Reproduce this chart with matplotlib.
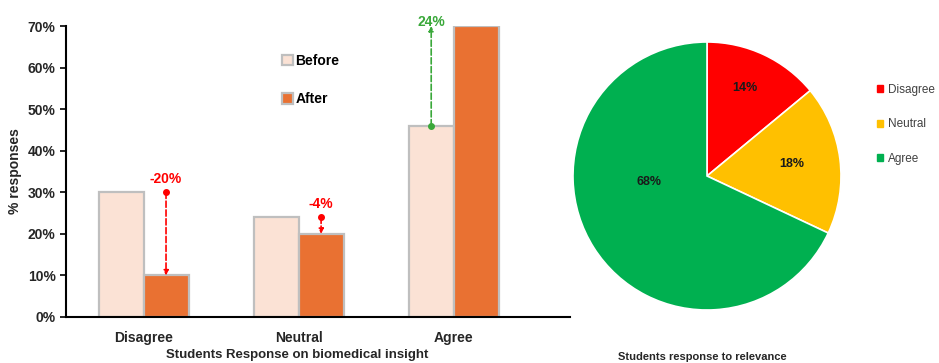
import numpy as np
import matplotlib
import matplotlib.pyplot as plt
from matplotlib.patches import Patch

matplotlib.use('Agg')
plt.rcParams['font.family'] = ['Liberation Sans', 'DejaVu Sans']

categories = ['Disagree', 'Neutral', 'Agree']
before = [30, 24, 46]
after = [10, 20, 70]
changes = ['-20%', '-4%', '24%']

pie_labels = ['Disagree', 'Neutral', 'Agree']
pie_values = [14, 18, 68]
pie_colors = ['#ff0000', '#ffc000', '#00b050']

fig = plt.figure(figsize=(9.39, 3.63), dpi=100)

# bar chart
ax = fig.add_axes([66 / 939, 46 / 363, 504 / 939, 291 / 363])
x = np.arange(len(categories))
w = 0.29
ax.bar(x - w / 2, before, w, color='#fbe2d5', edgecolor='#bfbfbf', linewidth=1.6, label='Before', zorder=2)
ax.bar(x + w / 2, after, w, color='#e97132', edgecolor='#bfbfbf', linewidth=1.6, label='After', zorder=2)

ax.set_xlim(-0.5, 2.75)
ax.set_ylim(0, 70)
ax.set_yticks(range(0, 71, 10))
ax.set_yticklabels([f'{v}%' for v in range(0, 71, 10)], fontsize=10, fontweight='bold', color='#262626')
ax.set_xticks(x)
ax.set_xticklabels(categories, fontsize=10, fontweight='bold', color='#262626')
ax.tick_params(axis='x', length=0, pad=10)
ax.tick_params(axis='y', length=4, width=1.2, direction='out')
for s in ['top', 'right']:
    ax.spines[s].set_visible(False)
for s in ['left', 'bottom']:
    ax.spines[s].set_linewidth(1.5)
ax.set_ylabel('% responses', fontsize=10, fontweight='bold', color='#262626', labelpad=4)
ax.set_xlabel('Students Response on biomedical insight', fontsize=9.5, fontweight='bold',
              color='#262626', va='center')
ax.xaxis.set_label_coords((297 - 66) / 504, -38 / 291)

# change arrows
for i, (b, a, lab) in enumerate(zip(before, after, changes)):
    if a < b:
        xa, col, y0, y1 = i + w / 2, '#ff0000', b, a
        ty = b + 3.2
    else:
        xa, col, y0, y1 = i - w / 2, '#3aa83a', b, a
        ty = a + 1
    ax.annotate('', xy=(xa, y1), xytext=(xa, y0),
                arrowprops=dict(arrowstyle='-|>', linestyle='--', color=col, lw=1.2,
                                mutation_scale=7, shrinkA=0, shrinkB=0), zorder=4)
    ax.plot(xa, y0, 'o', color=col, ms=4, zorder=5)
    ax.text(xa, ty, lab, color=col, fontsize=10, fontweight='bold', ha='center', va='center', zorder=5)

ax.legend(loc='upper left', bbox_to_anchor=((282 - 66) / 504, (317 - 54) / 291), frameon=False,
          prop={'weight': 'bold', 'size': 10}, handlelength=0.8, handleheight=0.8,
          handletextpad=0.15, labelspacing=1.75, borderpad=0, borderaxespad=0)

# pie chart
r = 134
pax = fig.add_axes([(707 - r) / 939, (363 - 176 - r) / 363, 2 * r / 939, 2 * r / 363])
pax.pie(pie_values, colors=pie_colors, startangle=90, counterclock=False,
        wedgeprops=dict(edgecolor='white', linewidth=1.2))
label_pos = [(0.28, 0.66), (0.63, 0.09), (-0.43, -0.045)]
for v, (px, py) in zip(pie_values, label_pos):
    pax.text(px, py, f'{v}%', ha='center', va='center',
             fontsize=9, fontweight='bold', color='#1a1a1a')
pax.set_xlim(-1, 1)
pax.set_ylim(-1, 1)
pax.set_aspect('auto')

handles = [Patch(color=c) for c in pie_colors]
fig.legend(handles, pie_labels, loc='upper left', bbox_to_anchor=(877 / 939, 1 - 84 / 363),
           frameon=False, fontsize=8.5, handlelength=0.55, handleheight=0.55,
           handletextpad=0.4, labelspacing=1.9, labelcolor='#404040', borderpad=0, borderaxespad=0)

fig.text(702 / 939, 1 - 357 / 363, 'Students response to relevance', ha='center', va='center',
         fontsize=8, fontweight='bold', color='#262626')

fig.savefig('out.png', dpi=100)
